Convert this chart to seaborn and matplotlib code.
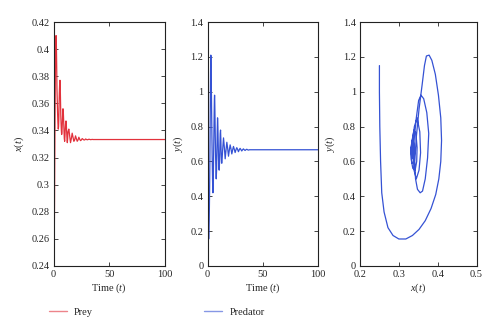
import matplotlib
matplotlib.use("Agg")
import matplotlib.pyplot as plt
from matplotlib.ticker import FuncFormatter
from matplotlib.lines import Line2D
import seaborn as sns
import pandas as pd

# Simulated prey/predator trajectory, sampled at irregular times
time = [0.0, 0.15, 0.3, 0.45, 0.6, 0.7, 0.8, 0.9, 1.0, 1.12, 1.25, 1.4, 1.55,
        1.7, 1.85, 2.0, 2.15, 2.3, 2.45, 2.6, 2.75, 2.9, 3.0, 3.1, 3.25, 3.45,
        3.7, 4.0, 4.3, 4.55, 4.75, 4.9, 5.05, 5.25, 5.5, 5.8, 6.05, 6.25, 6.4,
        6.55, 6.8, 7.05, 7.3, 7.6, 7.9, 8.2, 8.5, 8.8, 9.1, 9.4, 9.7, 10.0,
        10.3, 10.6, 10.9, 11.2, 11.5, 11.8, 12.1, 12.4, 12.7, 13.0, 13.75,
        14.5, 15.25, 16.0, 16.75, 17.5, 18.25, 19.0, 19.75, 20.5, 21.25, 22.0,
        22.75, 23.5, 24.25, 25.0, 25.75, 26.5, 27.25, 28.0, 28.75, 29.5, 30.25,
        31.0, 31.75, 32.5, 33.25, 34.0, 34.75, 35.5, 36.25, 37.0, 38.0, 100.0]

prey = [0.250, 0.250, 0.251, 0.253, 0.256, 0.262, 0.272, 0.285, 0.300, 0.318,
        0.335, 0.352, 0.368, 0.383, 0.395, 0.403, 0.408, 0.410, 0.408, 0.402,
        0.394, 0.385, 0.378, 0.371, 0.366, 0.360, 0.352, 0.345, 0.341, 0.343,
        0.348, 0.355, 0.361, 0.368, 0.374, 0.377, 0.372, 0.364, 0.357, 0.351,
        0.345, 0.340, 0.337, 0.339, 0.345, 0.352, 0.356, 0.354, 0.347, 0.340,
        0.334, 0.332, 0.336, 0.342, 0.346, 0.347, 0.344, 0.339, 0.334, 0.331,
        0.334, 0.339, 0.341, 0.336, 0.331, 0.334, 0.338, 0.335, 0.332, 0.333,
        0.336, 0.334, 0.332, 0.333, 0.335, 0.3335, 0.3325, 0.333, 0.334,
        0.3335, 0.333, 0.333, 0.3337, 0.3334, 0.3331, 0.3333, 0.3335, 0.3334,
        0.3332, 0.3333, 0.3334, 0.3333, 0.3333, 0.3333, 0.3333, 0.3333]

predator = [1.15, 1.00, 0.80, 0.60, 0.42, 0.31, 0.22, 0.175, 0.155, 0.155,
            0.175, 0.21, 0.26, 0.33, 0.41, 0.50, 0.60, 0.72, 0.85, 0.98, 1.10,
            1.18, 1.21, 1.205, 1.15, 1.04, 0.90, 0.74, 0.60, 0.50, 0.44, 0.42,
            0.43, 0.50, 0.62, 0.76, 0.88, 0.96, 0.98, 0.95, 0.85, 0.74, 0.64,
            0.55, 0.50, 0.55, 0.65, 0.77, 0.85, 0.80, 0.70, 0.61, 0.56, 0.55,
            0.60, 0.68, 0.76, 0.78, 0.72, 0.64, 0.59, 0.59, 0.67, 0.735, 0.68,
            0.615, 0.665, 0.71, 0.675, 0.63, 0.665, 0.695, 0.672, 0.643, 0.666,
            0.686, 0.670, 0.651, 0.667, 0.679, 0.669, 0.656, 0.667, 0.675,
            0.668, 0.660, 0.667, 0.672, 0.667, 0.663, 0.667, 0.670, 0.667,
            0.665, 0.667, 0.667]

df = pd.DataFrame({"t": time, "x": prey, "y": predator})

RED = "#e2323c"
BLUE = "#3552d4"

sns.set_style("ticks")
plt.rcParams["font.family"] = ["Liberation Serif", "DejaVu Serif"]
plt.rcParams["mathtext.fontset"] = "custom"
plt.rcParams["mathtext.rm"] = "Liberation Serif"
plt.rcParams["mathtext.it"] = "Liberation Serif:italic"
plt.rcParams["font.size"] = 7.5

fig = plt.figure(figsize=(5.0, 3.34), dpi=100)
bottom, height = 0.2036, 0.7305
ax1 = fig.add_axes([0.107, bottom, 0.223, height])
ax2 = fig.add_axes([0.415, bottom, 0.221, height])
ax3 = fig.add_axes([0.720, bottom, 0.233, height])

sns.lineplot(data=df, x="t", y="x", ax=ax1, color=RED, lw=0.9, sort=False,
             estimator=None)
sns.lineplot(data=df, x="t", y="y", ax=ax2, color=BLUE, lw=0.9, sort=False,
             estimator=None)
sns.lineplot(data=df, x="x", y="y", ax=ax3, color=BLUE, lw=0.9, sort=False,
             estimator=None)

fmt = FuncFormatter(lambda v, p: f"{v:g}")

ax1.set_xlim(0, 100)
ax1.set_ylim(0.24, 0.42)
ax1.set_xticks([0, 50, 100])
ax1.set_yticks([0.24, 0.26, 0.28, 0.30, 0.32, 0.34, 0.36, 0.38, 0.40, 0.42])
ax1.set_xlabel(r"Time ($t$)")
ax1.set_ylabel(r"$x$($t$)")

ax2.set_xlim(0, 100)
ax2.set_ylim(0, 1.4)
ax2.set_xticks([0, 50, 100])
ax2.set_yticks([0, 0.2, 0.4, 0.6, 0.8, 1.0, 1.2, 1.4])
ax2.set_xlabel(r"Time ($t$)")
ax2.set_ylabel(r"$y$($t$)")

ax3.set_xlim(0.2, 0.5)
ax3.set_ylim(0, 1.4)
ax3.set_xticks([0.2, 0.3, 0.4, 0.5])
ax3.set_yticks([0, 0.2, 0.4, 0.6, 0.8, 1.0, 1.2, 1.4])
ax3.set_xlabel(r"$x$($t$)")
ax3.set_ylabel(r"$y$($t$)")

for ax in (ax1, ax2, ax3):
    ax.xaxis.set_major_formatter(fmt)
    ax.yaxis.set_major_formatter(fmt)
    ax.tick_params(direction="in", top=True, right=True, length=3, width=0.6,
                   labelsize=7.5, pad=3)
    for s in ax.spines.values():
        s.set_linewidth(0.8)
        s.set_color("#222222")
    ax.xaxis.labelpad = 2
    ax.yaxis.labelpad = 4

handles = [Line2D([], [], color=RED, lw=1.0, alpha=0.6),
           Line2D([], [], color=BLUE, lw=1.0, alpha=0.6)]
fig.legend(handles, ["Prey", "Predator"], ncol=2, loc="center left",
           bbox_to_anchor=(0.079, 0.066), frameon=False, fontsize=7.5,
           handlelength=1.7, handletextpad=0.7, columnspacing=10.7)

fig.savefig("out.png", dpi=100)
